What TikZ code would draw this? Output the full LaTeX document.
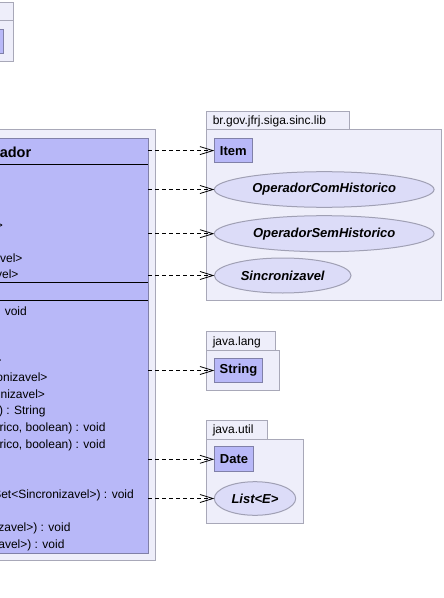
\documentclass[tikz,border=0pt]{standalone}
\usepackage{fontspec}
\setmainfont{Liberation Sans}
\usetikzlibrary{arrows.meta,shapes.geometric}
\definecolor{pkgfill}{RGB}{238,238,250}
\definecolor{pkgline}{RGB}{168,168,184}
\definecolor{clsfill}{RGB}{184,184,248}
\definecolor{clsline}{RGB}{128,128,168}
\definecolor{ellfill}{RGB}{220,220,248}
\definecolor{ellline}{RGB}{160,160,180}
\tikzset{
  pkg/.style={draw=pkgline, fill=pkgfill, rectangle, inner sep=0pt, outer sep=0pt},
  clsbox/.style={draw=clsline, fill=clsfill, rectangle, inner sep=0pt, outer sep=0pt,
    font=\fontsize{13bp}{15bp}\selectfont\bfseries},
  iface/.style={ellipse, draw=ellline, fill=ellfill, inner sep=0pt, outer sep=0pt,
    font=\fontsize{13bp}{15bp}\selectfont\bfseries\itshape},
  memb/.style={inner sep=0pt, anchor=base east, font=\fontsize{12bp}{14bp}\selectfont},
  pkglabel/.style={inner sep=0pt, anchor=base west, font=\fontsize{12bp}{14bp}\selectfont},
  sep/.style={draw=black, line width=1bp},
  dep/.style={draw=black, line width=0.8bp, dash pattern=on 4bp off 3bp,
    -{Straight Barb[length=13bp,width=8bp]}}
}
\begin{document}
\begin{tikzpicture}[x=1bp,y=-1bp,line width=1bp]
\useasboundingbox (0,0) rectangle (444,598);

% top-left package
\node[pkg, anchor=north east, minimum width=150bp, minimum height=18bp] (tlTab) at (13.3,2.3) {};
\node[pkg, anchor=north east, minimum width=150bp, minimum height=41bp] (tlBody) at (13.3,20.3) {};
\node[clsbox, anchor=north east, minimum width=100bp, minimum height=24bp] (tlCls) at (3.3,29.3) {};

% main package and class
\node[pkg, anchor=north east, minimum width=400bp, minimum height=430.7bp] (mainPkg) at (155.7,129.3) {};
\node[clsbox, anchor=north east, minimum width=400bp, minimum height=415bp] (cls) at (148.3,138.3) {};
\draw[sep] (-10,165) -- (148.3,165);
\draw[sep] (-10,282.5) -- (148.3,282.5);
\draw[sep] (-10,300.5) -- (148.3,300.5);

\node[inner sep=0pt, anchor=base east, font=\fontsize{14.5bp}{16bp}\selectfont\bfseries] (title) at (31.7,157.7) {ador};

\node[memb] (f1) at (3.5,229) {>};
\node[memb] (f2) at (23,262) {avel>};
\node[memb] (f3) at (19,278.5) {vel>};

\node[memb] (m1) at (27.3,315.3) {: void};
\node[memb] (m2) at (2,364.5) {>};
\node[memb] (m3) at (48,381.8) {onizavel>};
\node[memb] (m4) at (45.5,398.5) {nizavel>};
\node[memb] (m5) at (46,414.5) {l) : String};
\node[memb] (m6) at (106,431) {rico, boolean) : void};
\node[memb] (m7) at (106,448) {rico, boolean) : void};
\node[memb] (m8) at (134.3,498.3) {Set<Sincronizavel>) : void};
\node[memb] (m9) at (71,531.5) {izavel>) : void};
\node[memb] (m10) at (65,548.5) {zavel>) : void};

% package br.gov.jfrj.siga.sinc.lib
\node[pkg, anchor=north west, minimum width=142.3bp, minimum height=17.6bp] (libTab) at (206.7,111.7) {};
\node[pkglabel] (libLbl) at (212.3,124.6) {br.gov.jfrj.siga.sinc.lib};
\node[pkg, anchor=north west, minimum width=234.3bp, minimum height=171bp] (libBody) at (206.7,129.3) {};
\node[clsbox, minimum width=38bp, minimum height=23.7bp] (item) at (233.3,150.6) {Item};
\node[iface, minimum width=219.7bp, minimum height=35.6bp] (och) at (324.2,189.5) {OperadorComHistorico};
\node[iface, minimum width=219.7bp, minimum height=36bp] (osh) at (324.2,233.7) {OperadorSemHistorico};
\node[iface, minimum width=136.7bp, minimum height=35bp] (sinc) at (282.7,275.5) {Sincronizavel};

% package java.lang
\node[pkg, anchor=north west, minimum width=69bp, minimum height=19bp] (langTab) at (206.7,331.7) {};
\node[pkglabel] (langLbl) at (212.3,345.2) {java.lang};
\node[pkg, anchor=north west, minimum width=72.6bp, minimum height=39.6bp] (langBody) at (206.7,350.7) {};
\node[clsbox, minimum width=48.4bp, minimum height=24bp] (str) at (238.5,370.5) {String};

% package java.util
\node[pkg, anchor=north west, minimum width=61bp, minimum height=18.7bp] (utilTab) at (206.7,420.3) {};
\node[pkglabel] (utilLbl) at (212.3,433.9) {java.util};
\node[pkg, anchor=north west, minimum width=97bp, minimum height=84bp] (utilBody) at (206.7,439) {};
\node[clsbox, minimum width=39.4bp, minimum height=24.7bp] (date) at (234,459.3) {Date};
\node[iface, minimum width=81.4bp, minimum height=33.6bp] (list) at (255,498.5) {List<E>};

% dependencies
\draw[dep] (cls.east |- item.west) -- (item.west);
\draw[dep] (cls.east |- och.west) -- (och.west);
\draw[dep] (cls.east |- osh.west) -- (osh.west);
\draw[dep] (cls.east |- sinc.west) -- (sinc.west);
\draw[dep] (cls.east |- str.west) -- (str.west);
\draw[dep] (cls.east |- date.west) -- (date.west);
\draw[dep] (cls.east |- list.west) -- (list.west);
\end{tikzpicture}
\end{document}
